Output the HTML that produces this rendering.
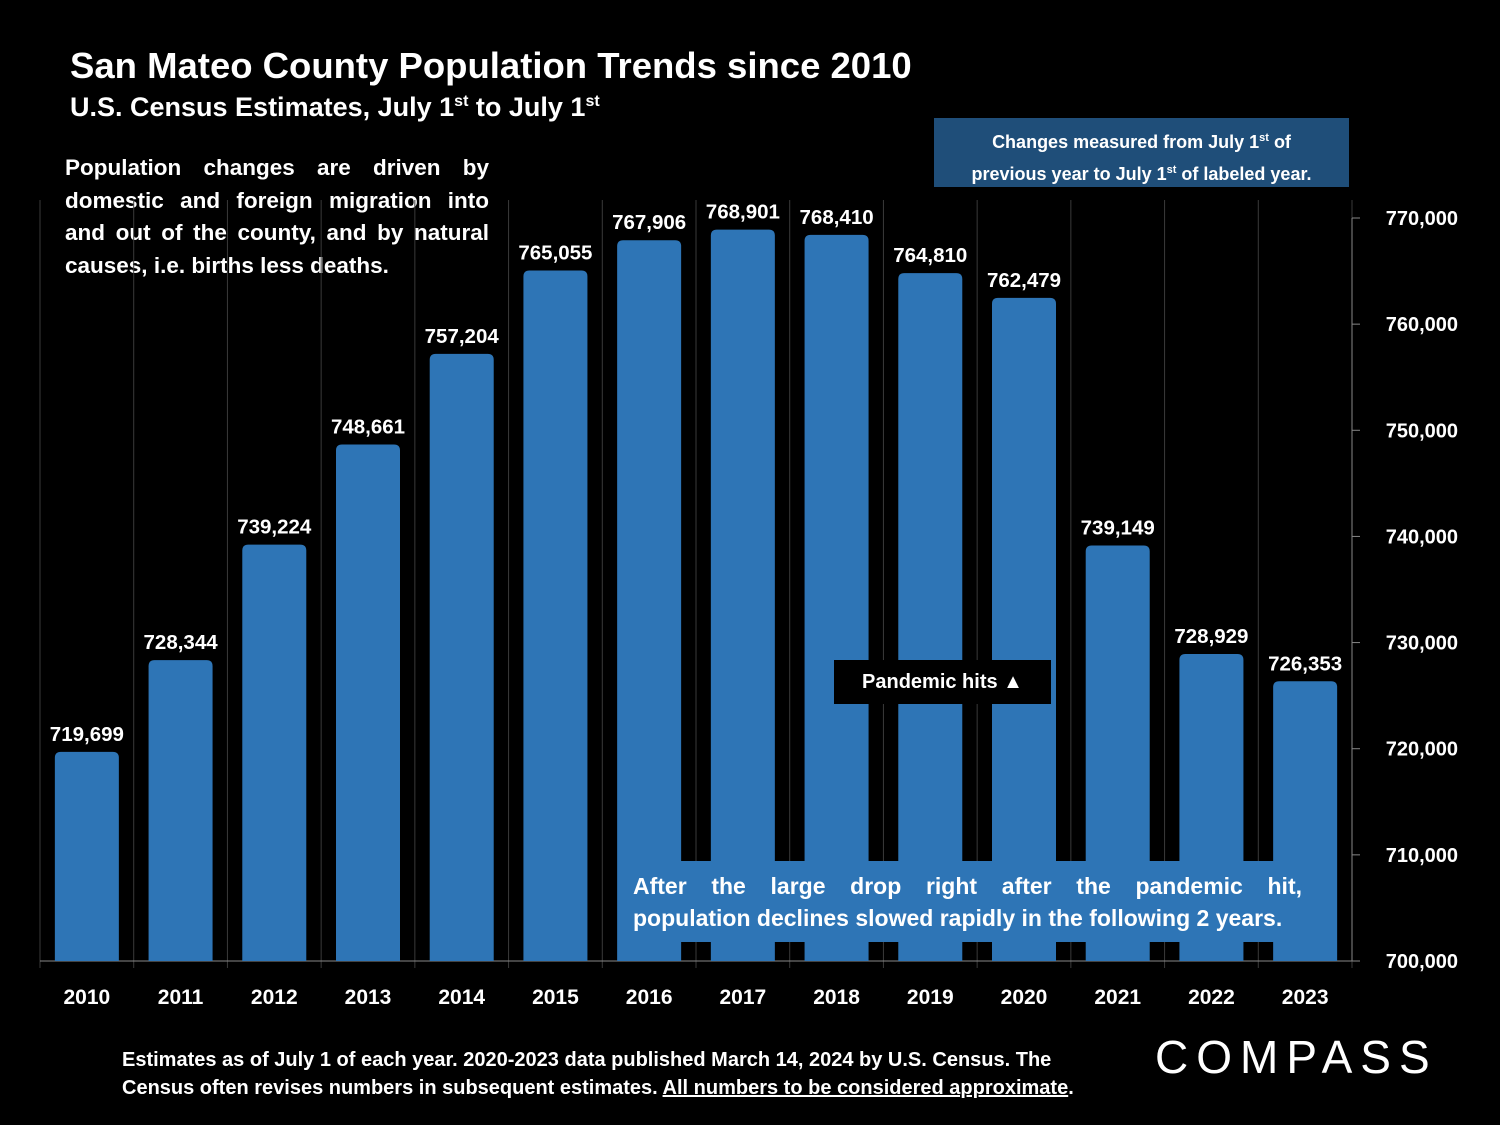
<!DOCTYPE html>
<html><head><meta charset="utf-8"><style>
body{margin:0;background:#000;width:1500px;height:1125px;overflow:hidden;font-family:"Liberation Sans",sans-serif;color:#fff}
.t{position:absolute;font-weight:bold}
.j{text-align:justify;text-align-last:justify;white-space:nowrap}
</style></head><body>
<div class="t" style="left:70px;top:45px;font-size:36.5px;">San Mateo County Population Trends since 2010</div>
<div class="t" style="left:70px;top:92px;font-size:27px;">U.S. Census Estimates, July 1<sup style="font-size:16px">st</sup> to July 1<sup style="font-size:16px">st</sup></div>
<div class="t" style="left:934px;top:118px;width:415px;height:69px;background:#1f4e79;font-size:18px;text-align:center;line-height:28px;padding-top:6px;box-sizing:border-box">Changes measured from July 1<sup style="font-size:11px">st</sup> of<br>previous year to July 1<sup style="font-size:11px">st</sup> of labeled year.</div>
<div class="t" style="left:65px;top:152px;width:424px;font-size:22.5px;line-height:32.5px">
<div class="j">Population changes are driven by</div>
<div class="j">domestic and foreign migration into</div>
<div class="j">and out of the county, and by natural</div>
<div>causes, i.e. births less deaths.</div></div>
<svg id="c" width="1500" height="1125" style="position:absolute;left:0;top:0"></svg>
<div class="t" style="left:834px;top:660px;width:217px;height:44px;background:#000;font-size:20px;line-height:44px;text-align:center">Pandemic hits ▲</div>
<div class="t" style="left:620px;top:861px;width:717px;height:81px;background:#2e75b6;font-size:23px;line-height:32px;padding:9px 35px 0 13px;box-sizing:border-box">
<div class="j">After the large drop right after the pandemic hit,</div>
<div>population declines slowed rapidly in the following 2 years.</div></div>
<div class="t" style="left:122px;top:1046px;font-size:20px;line-height:28px">Estimates as of July 1 of each year. 2020-2023 data published March 14, 2024 by U.S. Census. The<br>Census often revises numbers in subsequent estimates. <u>All numbers to be considered approximate</u>.</div>
<div style="position:absolute;left:1155px;top:1030px;font-size:46px;letter-spacing:8px;font-family:'Liberation Sans',sans-serif">COMPASS</div>
<script>
const years=["2010","2011","2012","2013","2014","2015","2016","2017","2018","2019","2020","2021","2022","2023"];
const pops=[719699,728344,739224,748661,757204,765055,767906,768901,768410,764810,762479,739149,728929,726353];
const ticks=[700000,710000,720000,730000,740000,750000,760000,770000];
const svg=document.getElementById('c'),NS="http://www.w3.org/2000/svg";
const x0=40,x1=1352,y0=961,yTop=218,step=(x1-x0)/years.length;
const y=v=>y0-(v-700000)/70000*(y0-yTop);
const xc=i=>x0+step*(i+0.5);
function mk(t,a,txt){const e=document.createElementNS(NS,t);for(const k in a)e.setAttribute(k,a[k]);if(txt!=null)e.textContent=txt;svg.appendChild(e);return e;}
for(let i=0;i<=years.length;i++){const g=mk('line',{x1:x0+step*i,x2:x0+step*i,y1:200,y2:968,stroke:'#3a3a3a','stroke-width':1});

}
mk('line',{x1:x0,x2:x1,y1:y0,y2:y0,stroke:'#888'});
const ya=mk('line',{x1:x1,x2:x1,y1:yTop,y2:y0,stroke:'#888'});

ticks.forEach(v=>{mk('line',{x1:x1,x2:x1+8,y1:y(v),y2:y(v),stroke:'#888'});
const t=mk('text',{x:1458,y:y(v)+7,'text-anchor':'end','font-size':20,'font-weight':'bold',fill:'#fff'},v.toLocaleString('en-US'));

});
years.forEach((yr,i)=>{const bw=64,bx=xc(i)-bw/2,by=y(pops[i]);
const b=mk('path',{d:`M${bx},${y0}V${by+6}Q${bx},${by} ${bx+6},${by}H${bx+bw-6}Q${bx+bw},${by} ${bx+bw},${by+6}V${y0}Z`,fill:'#2e75b6'});


const l=mk('text',{x:xc(i),y:by-11,'text-anchor':'middle','font-size':20.5,'font-weight':'bold',fill:'#fff'},pops[i].toLocaleString('en-US'));


const xl=mk('text',{x:xc(i),y:1004,'text-anchor':'middle','font-size':21,'font-weight':'bold',fill:'#fff'},yr);

});
</script>
</body></html>
